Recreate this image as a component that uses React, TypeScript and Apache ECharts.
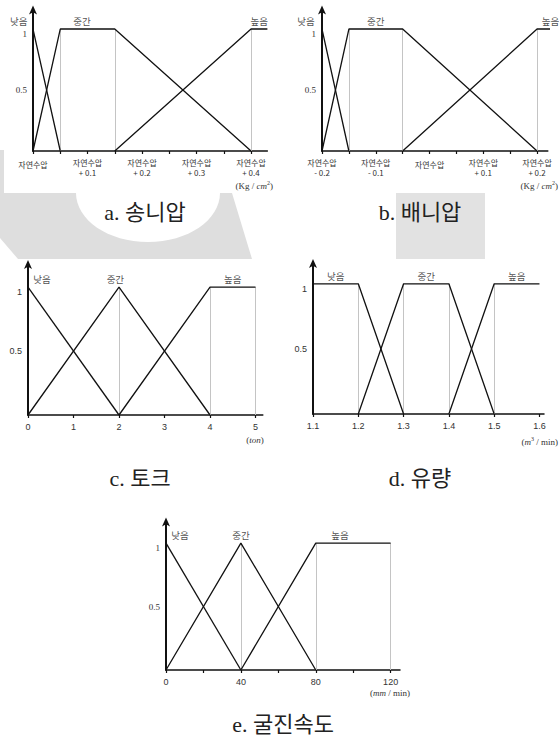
import React, { useEffect, useRef } from 'react';
import * as echarts from 'echarts';

// ---------- data ----------
// a. 송니압
const aLow = [[-0.03, 1], [0, 1], [0.05, 0]];
const aMid = [[0, 0], [0.05, 1], [0.15, 1], [0.4, 0]];
const aHigh = [[0.15, 0], [0.4, 1], [0.43, 1]];
const aGuides = [0.05, 0.15, 0.4];
const aTicks = [0, 0.05, 0.1, 0.15, 0.2, 0.25, 0.3, 0.35, 0.4];
const aLabelValues = [0, 0.1, 0.2, 0.3, 0.4];
const aLabels = ['자연수압', '자연수압\n+ 0.1', '자연수압\n+ 0.2', '자연수압\n+ 0.3', '자연수압\n+ 0.4'];
const aNames = [[-0.026, 1, '낮음'], [0.09, 1, '중간'], [0.415, 1, '높음']];

// b. 배니압
const bLow = [[-0.232, 1], [-0.2, 1], [-0.15, 0]];
const bMid = [[-0.2, 0], [-0.15, 1], [-0.05, 1], [0.2, 0]];
const bHigh = [[-0.05, 0], [0.2, 1], [0.24, 1]];
const bGuides = [-0.15, -0.05, 0.2];
const bTicks = [-0.2, -0.15, -0.1, -0.05, 0, 0.05, 0.1, 0.15, 0.2];
const bLabelValues = [-0.2, -0.1, 0, 0.1, 0.2];
const bLabels = ['자연수압\n- 0.2', '자연수압\n- 0.1', '자연수압', '자연수압\n+ 0.1', '자연수압\n+ 0.2'];
const bNames = [[-0.23, 1, '낮음'], [-0.1, 1, '중간'], [0.225, 1, '높음']];

// c. 토크
const cLow = [[0, 1], [2, 0]];
const cMid = [[0, 0], [2, 1], [4, 0]];
const cHigh = [[2, 0], [4, 1], [5, 1]];
const cGuides = [2, 4, 5];
const cTicks = [0, 1, 2, 3, 4, 5];
const cLabelValues = [0, 1, 2, 3, 4, 5];
const cLabels = ['0', '1', '2', '3', '4', '5'];
const cNames = [[0.31, 1, '낮음'], [1.92, 1, '중간'], [4.5, 1, '높음']];

// d. 유량
const dLow = [[1.1, 1], [1.2, 1], [1.3, 0]];
const dMid = [[1.2, 0], [1.3, 1], [1.4, 1], [1.5, 0]];
const dHigh = [[1.4, 0], [1.5, 1], [1.6, 1]];
const dGuides = [1.2, 1.3, 1.4, 1.5];
const dTicks = [1.1, 1.2, 1.3, 1.4, 1.5, 1.6];
const dLabelValues = [1.1, 1.2, 1.3, 1.4, 1.5, 1.6];
const dLabels = ['1.1', '1.2', '1.3', '1.4', '1.5', '1.6'];
const dNames = [[1.15, 1, '낮음'], [1.35, 1, '중간'], [1.55, 1, '높음']];

// e. 굴진속도
const eLow = [[0, 1], [40, 0]];
const eMid = [[0, 0], [40, 1], [80, 0]];
const eHigh = [[40, 0], [80, 1], [120, 1]];
const eGuides = [40, 80, 120];
const eTicks = [0, 20, 40, 60, 80, 100, 120];
const eLabelValues = [0, 40, 80, 120];
const eLabels = ['0', '40', '80', '120'];
const eNames = [[7.5, 1, '낮음'], [40, 1, '중간'], [93, 1, '높음']];

const yLabelValues = [0.5, 1];
const captions = ['a. 송니압', 'b. 배니압', 'c. 토크', 'd. 유량', 'e. 굴진속도'];

// ---------- layout ----------
const FONT_KR = '"Noto Sans CJK KR", sans-serif';
const FONT_SERIF = '"Liberation Serif", "Noto Sans CJK KR", serif';
const FONT_SANS = '"Liberation Sans", "Noto Sans CJK KR", sans-serif';

const panels = [
  { grid: { left: 33, top: 9.5, width: 234.4, height: 141.5 }, xMin: 0, xMax: 0.43, yMax: 1.16,
    ticks: aTicks, lv: aLabelValues, labels: aLabels, low: aLow, mid: aMid, high: aHigh, guides: aGuides, names: aNames, korean: true, ySerif: true },
  { grid: { left: 322, top: 9.5, width: 225.8, height: 141.5 }, xMin: -0.2, xMax: 0.22, yMax: 1.16,
    ticks: bTicks, lv: bLabelValues, labels: bLabels, low: bLow, mid: bMid, high: bHigh, guides: bGuides, names: bNames, korean: true, ySerif: true },
  { grid: { left: 28, top: 264, width: 234.8, height: 151 }, xMin: 0, xMax: 5.16, yMax: 1.18,
    ticks: cTicks, lv: cLabelValues, labels: cLabels, low: cLow, mid: cMid, high: cHigh, guides: cGuides, names: cNames, korean: false, ySerif: false },
  { grid: { left: 313, top: 263, width: 231, height: 151 }, xMin: 1.1, xMax: 1.61, yMax: 1.16,
    ticks: dTicks, lv: dLabelValues, labels: dLabels, low: dLow, mid: dMid, high: dHigh, guides: dGuides, names: dNames, korean: false, ySerif: false },
  { grid: { left: 166, top: 521.5, width: 234, height: 148.5 }, xMin: 0, xMax: 125, yMax: 1.17,
    ticks: eTicks, lv: eLabelValues, labels: eLabels, low: eLow, mid: eMid, high: eHigh, guides: eGuides, names: eNames, korean: false, ySerif: true },
];

const captionPos = [[145, 212], [420, 212], [140, 478], [420, 478], [283, 724]];

const near = (a: number, b: number) => Math.abs(a - b) < 1e-6;

function buildOption() {
  const grid: any[] = [];
  const xAxis: any[] = [];
  const yAxis: any[] = [];
  const series: any[] = [];

  panels.forEach((p, i) => {
    grid.push({ ...p.grid, containLabel: false });
    xAxis.push({
      type: 'value', gridIndex: i, min: p.xMin, max: p.xMax,
      axisLine: { onZero: false, lineStyle: { color: '#111', width: 1.5 } },
      axisTick: { show: true, length: 3, inside: false, customValues: p.ticks, lineStyle: { color: '#111', width: 1.2 } },
      splitLine: { show: false },
      axisLabel: {
        customValues: p.lv,
        margin: p.korean ? 6 : 7,
        color: '#333',
        fontSize: p.korean ? 8 : 9,
        fontFamily: p.korean ? FONT_KR : FONT_SANS,
        lineHeight: 10,
        formatter: (v: number) => {
          const k = p.lv.findIndex((t) => near(t, v));
          if (k < 0) return '';
          const s = p.labels[k];
          if (!p.korean) return s;
          if (s.includes('\n')) return s.split('\n').map((l) => `{t|${l}}`).join('\n');
          return `{m|${s}}`;
        },
        rich: {
          t: { fontSize: 8, lineHeight: 10, fontFamily: FONT_KR, color: '#333' },
          m: { fontSize: 8, lineHeight: 10, fontFamily: FONT_KR, color: '#333', padding: [5, 0, 0, 0] },
        },
      },
    });
    yAxis.push({
      type: 'value', gridIndex: i, min: 0, max: p.yMax,
      axisLine: { show: true, onZero: false, lineStyle: { color: '#111', width: 2 }, symbol: ['none', 'arrow'], symbolSize: [6, 9], symbolOffset: [0, 4] },
      axisTick: { show: false },
      splitLine: { show: false },
      axisLabel: {
        customValues: yLabelValues,
        margin: 6,
        color: '#333',
        fontSize: 9,
        fontFamily: p.ySerif ? FONT_SERIF : FONT_SANS,
        formatter: (v: number) => (near(v, 1) ? '{o|1}' : near(v, 0.5) ? '{n|0.5}' : ''),
        rich: {
          o: { fontSize: 9, fontFamily: p.ySerif ? FONT_SERIF : FONT_SANS, color: '#333', padding: [10, 0, 0, 0] },
          n: { fontSize: 9, fontFamily: p.ySerif ? FONT_SERIF : FONT_SANS, color: '#333' },
        },
      },
    });
    const lineBase = {
      type: 'line', xAxisIndex: i, yAxisIndex: i, symbol: 'none', clip: false, silent: true,
      lineStyle: { color: '#111', width: 1.3 },
    };
    series.push({ ...lineBase, name: `low${i}`, data: p.low });
    series.push({ ...lineBase, name: `mid${i}`, data: p.mid });
    series.push({
      ...lineBase, name: `high${i}`, data: p.high,
      markLine: {
        silent: true, symbol: ['none', 'none'], label: { show: false },
        lineStyle: { color: '#c4c4c4', width: 1, type: 'solid' },
        data: p.guides.map((g) => [{ coord: [g, 0] }, { coord: [g, 1] }]),
        z: 1,
      },
    });
    series.push({
      type: 'scatter', xAxisIndex: i, yAxisIndex: i, symbolSize: 1, silent: true, clip: false,
      itemStyle: { color: 'rgba(0,0,0,0)' },
      data: p.names,
      label: {
        show: true, position: 'top', distance: 3,
        formatter: (q: any) => q.value[2],
        fontFamily: FONT_KR, fontSize: 9.5, color: '#222',
      },
    });
  });

  const unitStyle = { fontSize: 9, fontFamily: FONT_SERIF, fill: '#333' };
  const unitRich = {
    i: { fontSize: 9, fontFamily: FONT_SERIF, fontStyle: 'italic', fill: '#333' },
    s: { fontSize: 6, fontFamily: FONT_SERIF, fill: '#333', padding: [0, 0, 6, 0] },
  };

  const graphic: any[] = [
    // watermark shape behind the first panel
    { type: 'polygon', z: -20, silent: true,
      shape: { points: [[0, 150], [4, 150], [4, 193], [232, 193], [252, 259], [18, 259], [0, 238]] },
      style: { fill: '#dedede' } },
    { type: 'ellipse', z: -19, silent: true, shape: { cx: 148, cy: 193, rx: 72, ry: 49 }, style: { fill: '#fff' } },
    { type: 'rect', z: -18, silent: true, shape: { x: 4, y: 0, width: 290, height: 193 }, style: { fill: '#fff' } },
    { type: 'rect', z: -18, silent: true, shape: { x: 396, y: 193, width: 89, height: 66 }, style: { fill: '#e2e2e2' } },
    // units
    { type: 'text', z: 10, x: 273, y: 186, style: { ...unitStyle, text: '(Kg / {i|cm}{s|2})', rich: unitRich, align: 'right', verticalAlign: 'middle' } },
    { type: 'text', z: 10, x: 558, y: 186, style: { ...unitStyle, text: '(Kg / {i|cm}{s|2})', rich: unitRich, align: 'right', verticalAlign: 'middle' } },
    { type: 'text', z: 10, x: 255, y: 440, style: { ...unitStyle, text: '({i|ton})', rich: unitRich, align: 'center', verticalAlign: 'middle' } },
    { type: 'text', z: 10, x: 558, y: 442, style: { ...unitStyle, text: '({i|m}{s|3} / min)', rich: unitRich, align: 'right', verticalAlign: 'middle' } },
    { type: 'text', z: 10, x: 410, y: 693, style: { ...unitStyle, text: '({i|mm} / min)', rich: unitRich, align: 'right', verticalAlign: 'middle' } },
  ];
  captions.forEach((c, i) => {
    graphic.push({
      type: 'text', z: 10, x: captionPos[i][0], y: captionPos[i][1],
      style: { text: c, fontSize: 22, fontFamily: FONT_SERIF, fill: '#222', align: 'center', verticalAlign: 'middle' },
    });
  });

  return { animation: false, backgroundColor: '#fff', grid, xAxis, yAxis, series, graphic };
}

export default function App() {
  const ref = useRef<HTMLDivElement>(null);
  useEffect(() => {
    if (!ref.current) return;
    const chart = echarts.init(ref.current, undefined, { renderer: 'svg' });
    chart.setOption(buildOption() as any);
    return () => chart.dispose();
  }, []);
  return <div ref={ref} style={{ position: 'absolute', left: 0, top: 0, width: 559, height: 740 }} />;
}
